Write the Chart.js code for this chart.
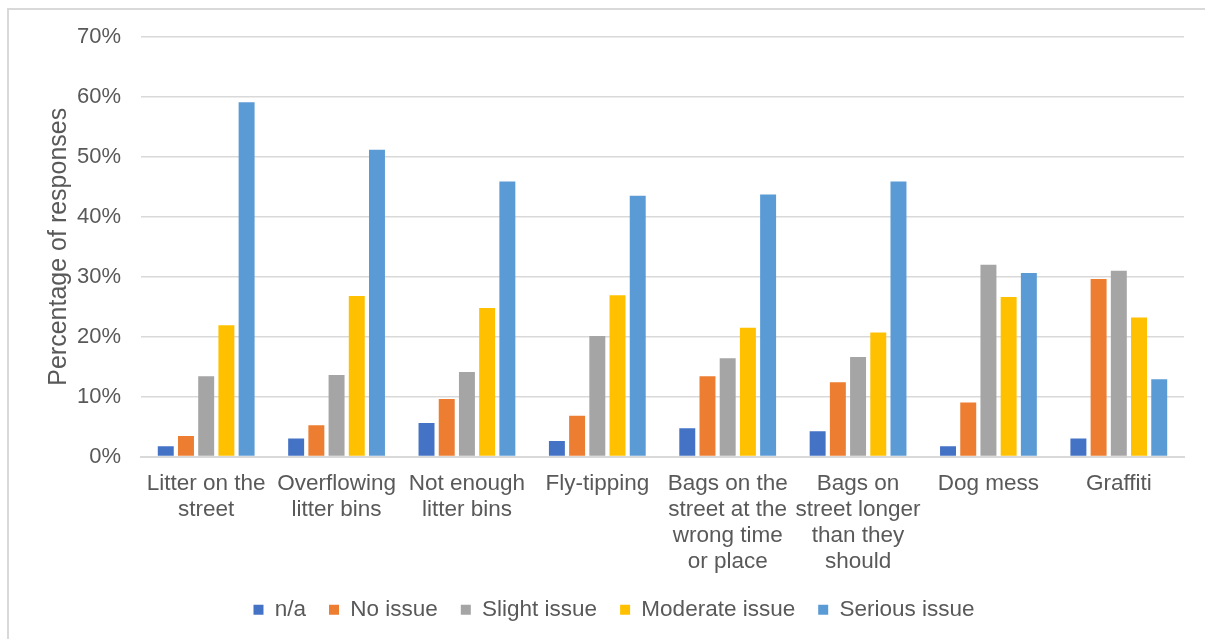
<!DOCTYPE html>
<html>
<head>
<meta charset="utf-8">
<title>Street cleanliness issues</title>
<script src="https://cdn.jsdelivr.net/npm/chart.js@4.4.1/dist/chart.umd.min.js"></script>
<style>
  html, body { margin: 0; padding: 0; background: #ffffff; }
  #wrap { position: relative; width: 1205px; height: 639px; }
</style>
</head>
<body>
<div id="wrap"><canvas id="chart" width="1205" height="639"></canvas></div>
<script>
// Survey categories (multi-line labels)
const categories = [
  ['Litter on the', 'street'],
  ['Overflowing', 'litter bins'],
  ['Not enough', 'litter bins'],
  ['Fly-tipping'],
  ['Bags on the', 'street at the', 'wrong time', 'or place'],
  ['Bags on', 'street longer', 'than they', 'should'],
  ['Dog mess'],
  ['Graffiti']
];

// Percentage of responses per rating
const naValues       = [1.7, 3.0, 5.6, 2.6, 4.7, 4.2, 1.7, 3.0];
const noIssue        = [3.4, 5.2, 9.6, 6.8, 13.4, 12.4, 9.0, 29.6];
const slightIssue    = [13.4, 13.6, 14.1, 20.1, 16.4, 16.6, 32.0, 31.0];
const moderateIssue  = [21.9, 26.8, 24.8, 26.9, 21.5, 20.7, 26.6, 23.2];
const seriousIssue   = [59.1, 51.2, 45.9, 43.5, 43.7, 45.9, 30.6, 12.9];

const seriesNames = ['n/a', 'No issue', 'Slight issue', 'Moderate issue', 'Serious issue'];
const seriesColors = ['#4472C4', '#ED7D31', '#A5A5A5', '#FFC000', '#5B9BD5'];
const seriesData = [naValues, noIssue, slightIssue, moderateIssue, seriousIssue];

const yTicks = [0, 10, 20, 30, 40, 50, 60, 70];

const FONT = '"Liberation Sans", Arial, sans-serif';
const TEXT = '#595959';
const GRID = '#d9d9d9';

// Light frame around the chart area
const framePlugin = {
  id: 'frame',
  beforeDraw(chart) {
    const ctx = chart.ctx;
    ctx.save();
    ctx.fillStyle = '#ffffff';
    ctx.fillRect(0, 0, chart.width, chart.height);
    ctx.strokeStyle = GRID;
    ctx.lineWidth = 2;
    ctx.beginPath();
    ctx.moveTo(8, chart.height);
    ctx.lineTo(8, 9);
    ctx.lineTo(chart.width, 9);
    ctx.stroke();
    ctx.restore();
  }
};

// Nudge the legend row slightly to the right
const legendShift = {
  id: 'legendShift',
  afterLayout(chart) {
    if (chart.legend) {
      chart.legend.left += 22;
      chart.legend.right += 22;
    }
  }
};

new Chart(document.getElementById('chart'), {
  type: 'bar',
  data: {
    labels: categories,
    datasets: seriesData.map((vals, i) => ({
      label: seriesNames[i],
      data: vals,
      backgroundColor: seriesColors[i],
      borderWidth: 0,
      categoryPercentage: 0.775,
      barPercentage: 0.79
    }))
  },
  options: {
    responsive: false,
    animation: false,
    layout: { padding: { left: 0, right: 21, top: 37, bottom: 8 } },
    plugins: {
      tooltip: { enabled: false },
      legend: {
        position: 'bottom',
        labels: {
          color: TEXT,
          font: { family: FONT, size: 22.5 },
          boxWidth: 10,
          boxHeight: 10,
          padding: 23
        }
      }
    },
    scales: {
      x: {
        grid: { display: false, drawTicks: false },
        border: { display: true, color: GRID, width: 2 },
        ticks: {
          color: TEXT,
          font: { family: FONT, size: 22.5, lineHeight: 1.16 },
          maxRotation: 0,
          autoSkip: false,
          padding: 14
        },
        afterFit(scale) { scale.height = 119; }
      },
      y: {
        min: 0,
        max: 70,
        afterBuildTicks(scale) { scale.ticks = yTicks.map(v => ({ value: v })); },
        grid: { color: GRID, lineWidth: 1.6, drawTicks: false },
        border: { display: false },
        ticks: {
          color: TEXT,
          font: { family: FONT, size: 22 },
          padding: 20,
          callback: v => v + '%'
        },
        title: {
          display: true,
          text: 'Percentage of responses',
          color: TEXT,
          font: { family: FONT, size: 25 },
          padding: { top: 44, bottom: 0 }
        },
        afterFit(scale) { scale.width = 141; }
      }
    }
  },
  plugins: [framePlugin, legendShift]
});
</script>
</body>
</html>
